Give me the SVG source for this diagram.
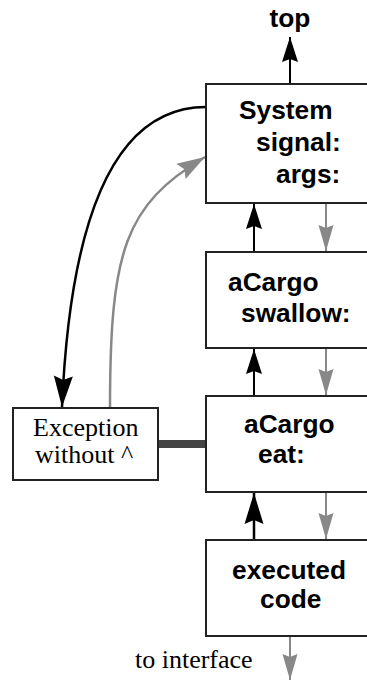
<svg xmlns="http://www.w3.org/2000/svg" width="367" height="681" viewBox="0 0 367 681">
<style>
.box{fill:#fff;stroke:#222;stroke-width:2}
.lbl{font-family:"Liberation Sans",Arial,sans-serif;font-weight:bold;font-size:26.3px;fill:#000}
.ser{font-family:"Liberation Serif","Times New Roman",serif;font-size:26px;fill:#000}
.blk{fill:none;stroke:#000;stroke-width:2}
.gry{fill:none;stroke:#888;stroke-width:2}
</style>
<defs>
<marker id="ab" markerUnits="userSpaceOnUse" viewBox="-26 -9 27 18" refX="0" refY="0" markerWidth="27" markerHeight="18" orient="auto"><path d="M0,0 L-25,-8 L-22,0 L-25,8 z" fill="#000"/></marker>
<marker id="abl" markerUnits="userSpaceOnUse" viewBox="-32 -10 33 20" refX="0" refY="0" markerWidth="33" markerHeight="20" orient="auto"><path d="M0,0 L-31,-9.5 L-27,0 L-31,9.5 z" fill="#000"/></marker>
<marker id="ag" markerUnits="userSpaceOnUse" viewBox="-28 -9 29 18" refX="0" refY="0" markerWidth="29" markerHeight="18" orient="auto"><path d="M0,0 L-26,-7.5 L-23,0 L-26,7.5 z" fill="#888"/></marker>
<marker id="agl" markerUnits="userSpaceOnUse" viewBox="-30 -10 31 20" refX="0" refY="0" markerWidth="31" markerHeight="20" orient="auto"><path d="M0,0 L-28,-9 L-24,0 L-28,9 z" fill="#888"/></marker>
</defs>
<g id="connectors">
<path class="blk" d="M290,84 L290,37" marker-end="url(#ab)"/>
<path class="blk" d="M254,252 L254,204" marker-end="url(#ab)"/>
<path class="gry" d="M326,203 L326,251" marker-end="url(#ag)"/>
<path class="blk" d="M254,396 L254,349" marker-end="url(#ab)"/>
<path class="gry" d="M326,348 L326,395" marker-end="url(#ag)"/>
<path class="blk" style="stroke-width:2.5" d="M254,540 L254,493" marker-end="url(#abl)"/>
<path class="gry" d="M326,492 L326,539" marker-end="url(#ag)"/>
<path class="gry" d="M290,636 L290,680" marker-end="url(#ag)"/>
<path class="blk" style="stroke-width:2.5" d="M206,107 Q75,107 62,407" marker-end="url(#abl)"/>
<path class="gry" style="stroke-width:2.5" d="M110,408 C110,250 125,205 205,157" marker-end="url(#agl)"/>
<line x1="158" y1="444" x2="206" y2="444" stroke="#444" stroke-width="8"/>
</g>
<g id="top"><text class="lbl" x="290" y="27" text-anchor="middle">top</text></g>
<g id="system">
<rect class="box" x="206" y="84" width="170" height="119"/>
<text class="lbl" x="239" y="119">System</text>
<text class="lbl" x="256" y="151">signal:</text>
<text class="lbl" x="276" y="183">args:</text>
</g>
<g id="swallow">
<rect class="box" x="206" y="252" width="170" height="96"/>
<text class="lbl" x="228" y="291">aCargo</text>
<text class="lbl" x="241" y="322">swallow:</text>
</g>
<g id="eat">
<rect class="box" x="206" y="396" width="170" height="96"/>
<text class="lbl" x="244" y="433">aCargo</text>
<text class="lbl" x="258" y="463">eat:</text>
</g>
<g id="executed">
<rect class="box" x="206" y="540" width="170" height="96"/>
<text class="lbl" x="232" y="579">executed</text>
<text class="lbl" x="260" y="608">code</text>
</g>
<g id="exception">
<rect class="box" x="13" y="408" width="145" height="72"/>
<text class="ser" x="33" y="436">Exception</text>
<text class="ser" x="35" y="463">without ^</text>
</g>
<g id="interface"><text class="ser" x="135" y="668">to interface</text></g>
</svg>
